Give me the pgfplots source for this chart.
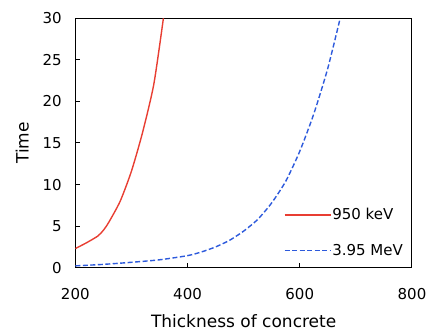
\documentclass[border=0pt]{standalone}
\usepackage{pgfplots}
\pgfplotsset{compat=1.18}
\usepackage{fontspec}
\setmainfont{DejaVu Sans}
\definecolor{cred}{RGB}{232,62,50}
\definecolor{cblue}{RGB}{45,90,220}
\begin{document}
\begin{tikzpicture}
\path (-75.3pt,-64.3pt) rectangle (355.7pt,267.7pt);
\begin{axis}[
  at={(0,0)}, anchor=south west,
  scale only axis, width=336.7pt, height=249.4pt,
  xmin=200, xmax=800, ymin=0, ymax=30,
  xtick={200,400,600,800}, ytick={0,5,...,30},
  tick align=inside, major tick length=5pt,
  xtick pos=bottom, ytick pos=left,
  axis line style={line width=1pt},
  tick style={line width=1pt, black},
  /pgf/number format/assume math mode=true,
  ticklabel style={font=\fontsize{15}{18}\selectfont},
  xticklabel style={yshift=-17pt},
  yticklabel style={xshift=-10pt},
  label style={font=\fontsize{17}{20}\selectfont},
  xlabel={Thickness of concrete},
  ylabel={Time},
  xlabel style={yshift=-8pt},
  ylabel style={yshift=7pt},
  legend style={draw=none, fill=none, at={(0.61,0.25)}, anchor=north west,
    font=\fontsize{15}{18}\selectfont, row sep=21pt,
    nodes={inner sep=1pt}},
  legend cell align=left,
  legend image code/.code={\draw[#1] (0pt,0pt) -- (46pt,0pt);},
  clip=true,
]
\addplot[cred, line width=1.4pt, smooth, tension=0.4] coordinates {
 (200,2.3) (220,3.0) (240,3.8) (250,4.5) (260,5.5) (280,8.0) (300,11.6) (320,16.3) (340,22.1) (357,30)
};
\addlegendentry{950 keV}
\addplot[cblue, line width=1.4pt, dash pattern=on 5pt off 2.5pt, smooth, tension=0.4] coordinates {
 (200,0.22) (250,0.4) (300,0.65) (350,0.95) (400,1.45) (425,1.9) (450,2.5) (475,3.3) (500,4.4) (525,5.8) (550,7.8) (575,10.4) (600,14.0) (625,18.5) (650,24.0) (672,30)
};
\addlegendentry{3.95 MeV}
\end{axis}
\end{tikzpicture}
\end{document}
